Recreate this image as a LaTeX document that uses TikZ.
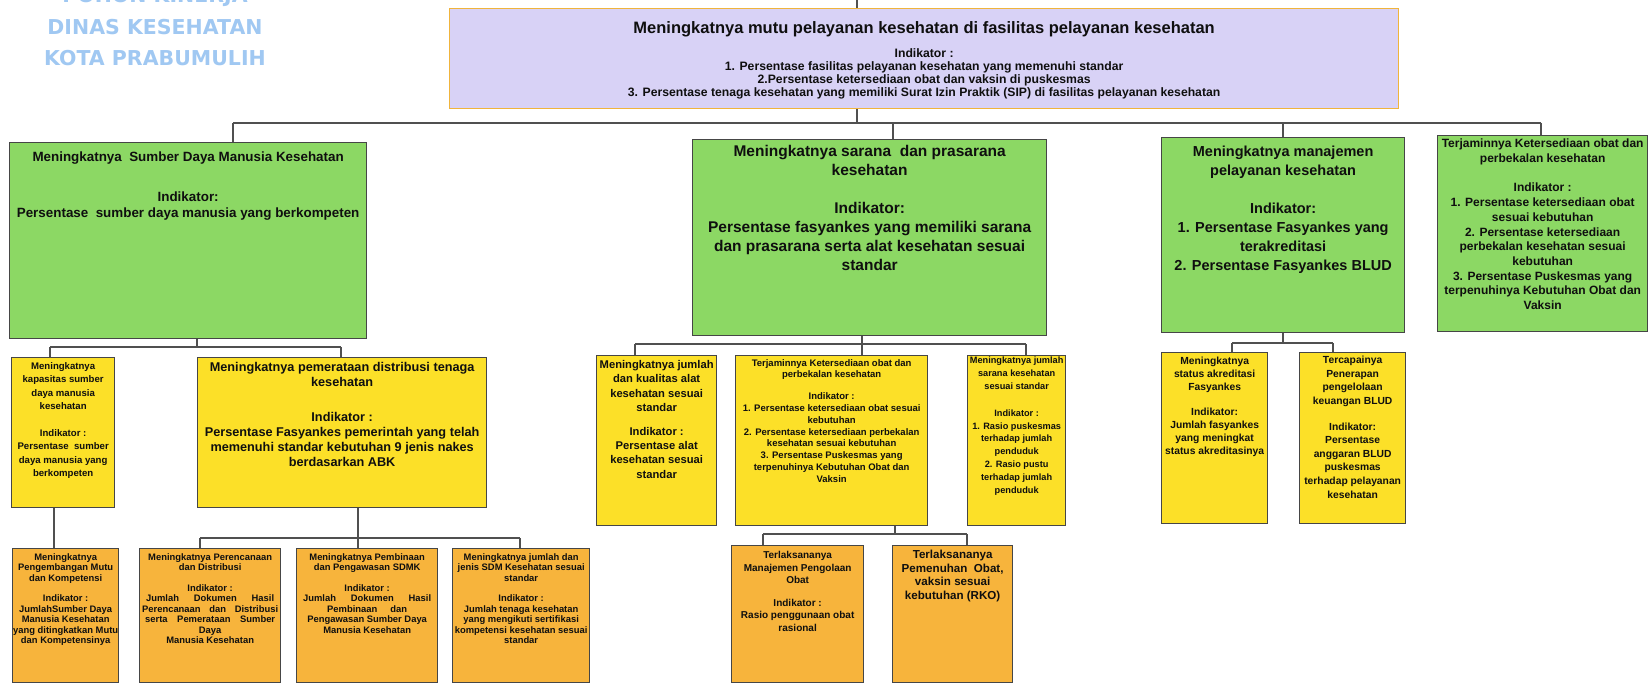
\documentclass[tikz,border=0pt]{standalone}
\usepackage{fontspec}
\setmainfont{Liberation Sans}
\newfontfamily\wmfont{DejaVu Sans}
\definecolor{lavc}{RGB}{216,210,246}
\definecolor{topbc}{RGB}{240,180,60}
\definecolor{grnc}{RGB}{140,216,100}
\definecolor{ylwc}{RGB}{252,224,40}
\definecolor{orgc}{RGB}{247,180,60}
\definecolor{bordc}{RGB}{70,70,70}
\definecolor{linec}{RGB}{80,80,80}
\definecolor{txtc}{RGB}{15,15,15}
\definecolor{wmc}{RGB}{160,200,242}
\newcommand{\fs}[2]{\fontsize{#1pt}{#2pt}\selectfont\bfseries}
\begin{document}
\begin{tikzpicture}[x=1pt,y=-1pt,
  bx/.style={draw=bordc, line width=1.3pt, anchor=north west, inner sep=0pt},
  lbl/.style={anchor=north, align=center, inner sep=0pt, text=txtc},
  conn/.style={draw=linec, line width=1.3pt},
  wm/.style={text=wmc, font=\wmfont\bfseries\fontsize{20.5pt}{21pt}\selectfont, inner sep=0pt}]
\useasboundingbox (0,0) rectangle (1648,684);

% watermark
\node[wm] (wm1) at (155,-3) {POHON KINERJA};
\node[wm] (wm2) at (155,27) {DINAS KESEHATAN};
\node[wm] (wm3) at (155,58) {KOTA PRABUMULIH};

% top box
\node[bx, draw=topbc, fill=lavc, minimum width=949pt, minimum height=100pt,
  label={[lbl, yshift=-13pt, font=\fs{16.5}{18}]north:{Meningkatnya mutu pelayanan kesehatan di fasilitas pelayanan kesehatan}},
  label={[lbl, yshift=-40pt, font=\fs{12.2}{13.3}]north:{Indikator :\\1. Persentase fasilitas pelayanan kesehatan yang memenuhi standar\\2.Persentase ketersediaan obat dan vaksin di puskesmas\\3. Persentase tenaga kesehatan yang memiliki Surat Izin Praktik (SIP) di fasilitas pelayanan kesehatan}}]
  (T) at (449,8) {};

% green row
\node[bx, fill=grnc, minimum width=357pt, minimum height=196pt,
  label={[lbl, yshift=-9.5pt, font=\fs{13.4}{16}]north:{Meningkatnya\ \ Sumber Daya Manusia Kesehatan\\[24pt]Indikator:\\Persentase\ \ sumber daya manusia yang berkompeten}}]
  (G1) at (9,142) {};
\node[bx, fill=grnc, minimum width=354pt, minimum height=196pt,
  label={[lbl, yshift=-6.5pt, font=\fs{15.5}{19}]north:{Meningkatnya sarana\ \ dan prasarana\\kesehatan\\[19pt]Indikator:\\Persentase fasyankes yang memiliki sarana\\dan prasarana serta alat kesehatan sesuai\\standar}}]
  (G2) at (692,139) {};
\node[bx, fill=grnc, minimum width=243pt, minimum height=195pt,
  label={[lbl, yshift=-9pt, font=\fs{14.5}{19}]north:{Meningkatnya manajemen\\pelayanan kesehatan\\[19pt]Indikator:\\1. Persentase Fasyankes yang\\terakreditasi\\2. Persentase Fasyankes BLUD}}]
  (G3) at (1161,137) {};
\node[bx, fill=grnc, minimum width=210pt, minimum height=196pt,
  label={[lbl, yshift=-4pt, font=\fs{12}{14.7}]north:{Terjaminnya Ketersediaan obat dan\\perbekalan kesehatan\\[14.7pt]Indikator :\\1. Persentase ketersediaan obat\\sesuai kebutuhan\\2. Persentase ketersediaan\\perbekalan kesehatan sesuai\\kebutuhan\\3. Persentase Puskesmas yang\\terpenuhinya Kebutuhan Obat dan\\Vaksin}}]
  (G4) at (1437,135) {};

% yellow row
\node[bx, fill=ylwc, minimum width=103pt, minimum height=150pt,
  label={[lbl, yshift=-5pt, font=\fs{9.6}{13.5}]north:{Meningkatnya\\kapasitas sumber\\daya manusia\\kesehatan\\[13pt]Indikator :\\Persentase\ \ sumber\\daya manusia yang\\berkompeten}}]
  (Y1a) at (11,357) {};
\node[bx, fill=ylwc, minimum width=289pt, minimum height=150pt,
  label={[lbl, yshift=-4.7pt, font=\fs{12.7}{15}]north:{Meningkatnya pemerataan distribusi tenaga\\kesehatan\\[20pt]Indikator :\\Persentase Fasyankes pemerintah yang telah\\memenuhi standar kebutuhan 9 jenis nakes\\berdasarkan ABK}}]
  (Y1b) at (197,357) {};
\node[bx, fill=ylwc, minimum width=120pt, minimum height=170pt,
  label={[lbl, yshift=-5.3pt, font=\fs{11.2}{14.2}]north:{Meningkatnya jumlah\\dan kualitas alat\\kesehatan sesuai\\standar\\[10pt]Indikator :\\Persentase alat\\kesehatan sesuai\\standar}}]
  (Y2a) at (596,355) {};
\node[bx, fill=ylwc, minimum width=192pt, minimum height=170pt,
  label={[lbl, yshift=-4pt, font=\fs{9.5}{11.8}]north:{Terjaminnya Ketersediaan obat dan\\perbekalan kesehatan\\[10pt]Indikator :\\1. Persentase ketersediaan obat sesuai\\kebutuhan\\2. Persentase ketersediaan perbekalan\\kesehatan sesuai kebutuhan\\3. Persentase Puskesmas yang\\terpenuhinya Kebutuhan Obat dan\\Vaksin}}]
  (Y2b) at (735,355) {};
\node[bx, fill=ylwc, minimum width=98pt, minimum height=170pt,
  label={[lbl, yshift=-2pt, font=\fs{9.2}{12.8}]north:{Meningkatnya jumlah\\sarana kesehatan\\sesuai standar\\[14pt]Indikator :\\1. Rasio puskesmas\\terhadap jumlah\\penduduk\\2. Rasio pustu\\terhadap jumlah\\penduduk}}]
  (Y2c) at (967,355) {};
\node[bx, fill=ylwc, minimum width=106pt, minimum height=171pt,
  label={[lbl, yshift=-4.8pt, font=\fs{10.3}{13}]north:{Meningkatnya\\status akreditasi\\Fasyankes\\[12pt]Indikator:\\Jumlah fasyankes\\yang meningkat\\status akreditasinya}}]
  (Y3a) at (1161,352) {};
\node[bx, fill=ylwc, minimum width=106pt, minimum height=171pt,
  label={[lbl, yshift=-4pt, font=\fs{10.3}{13.6}]north:{Tercapainya\\Penerapan\\pengelolaan\\keuangan BLUD\\[12pt]Indikator:\\Persentase\\anggaran BLUD\\puskesmas\\terhadap pelayanan\\kesehatan}}]
  (Y3b) at (1299,352) {};

% orange row
\node[bx, fill=orgc, minimum width=106pt, minimum height=134pt,
  label={[lbl, yshift=-5pt, font=\fs{9.4}{10.5}]north:{Meningkatnya\\Pengembangan Mutu\\dan Kompetensi\\[10pt]Indikator :\\JumlahSumber Daya\\Manusia Kesehatan\\yang ditingkatkan Mutu\\dan Kompetensinya}}]
  (O1) at (12,548) {};
\node[bx, fill=orgc, minimum width=141pt, minimum height=134pt,
  label={[lbl, yshift=-5pt, font=\fs{9.4}{10.5}]north:{Meningkatnya Perencanaan\\dan Distribusi\\[10pt]Indikator :\\\makebox[128pt][s]{Jumlah Dokumen Hasil}\\\makebox[136pt][s]{Perencanaan dan Distribusi}\\\makebox[130pt][s]{serta Pemerataan Sumber}\\Daya\\Manusia Kesehatan}}]
  (O2) at (139,548) {};
\node[bx, fill=orgc, minimum width=141pt, minimum height=134pt,
  label={[lbl, yshift=-5pt, font=\fs{9.4}{10.5}]north:{Meningkatnya Pembinaan\\dan Pengawasan SDMK\\[10pt]Indikator :\\\makebox[128pt][s]{Jumlah Dokumen Hasil}\\\makebox[80pt][s]{Pembinaan dan}\\Pengawasan Sumber Daya\\Manusia Kesehatan}}]
  (O3) at (296,548) {};
\node[bx, fill=orgc, minimum width=137pt, minimum height=134pt,
  label={[lbl, yshift=-5pt, font=\fs{9.4}{10.5}]north:{Meningkatnya jumlah dan\\jenis SDM Kesehatan sesuai\\standar\\[10pt]Indikator :\\Jumlah tenaga kesehatan\\yang mengikuti sertifikasi\\kompetensi kesehatan sesuai\\standar}}]
  (O4) at (452,548) {};
\node[bx, fill=orgc, minimum width=132pt, minimum height=137pt,
  label={[lbl, yshift=-6pt, font=\fs{10}{12.6}]north:{Terlaksananya\\Manajemen Pengolaan\\Obat\\[10pt]Indikator :\\Rasio penggunaan obat\\rasional}}]
  (O5) at (731,545) {};
\node[bx, fill=orgc, minimum width=120pt, minimum height=137pt,
  label={[lbl, yshift=-5pt, font=\fs{11.6}{13.5}]north:{Terlaksananya\\Pemenuhan\ \ Obat,\\vaksin sesuai\\kebutuhan (RKO)}}]
  (O6) at (892,545) {};

% connectors level 0/1
\coordinate (top0) at (857,0);
\draw[conn] (top0) -- (top0 |- T.north);
\coordinate (bus0) at (857,123);
\draw[conn] (T.south -| bus0) -- (bus0);
\coordinate (k1) at (233,123);
\coordinate (k2) at (893,123);
\coordinate (k3) at (1283,123);
\coordinate (k4) at (1541,123);
\draw[conn] (k1) -- (k4);
\draw[conn] (k1) -- (k1 |- G1.north);
\draw[conn] (k2) -- (k2 |- G2.north);
\draw[conn] (k3) -- (k3 |- G3.north);
\draw[conn] (k4) -- (k4 |- G4.north);

% under G1
\coordinate (s1) at (197,347);
\coordinate (a1) at (50,347);
\coordinate (a2) at (341,347);
\draw[conn] (G1.south -| s1) -- (s1);
\draw[conn] (a1) -- (a2);
\draw[conn] (a1) -- (a1 |- Y1a.north);
\draw[conn] (a2) -- (a2 |- Y1b.north);
% under Y1a
\coordinate (a3) at (54,530);
\draw[conn] (Y1a.south -| a3) -- (a3 |- O1.north);
% under Y1b
\coordinate (s2) at (358,538);
\coordinate (c1) at (200,538);
\coordinate (c3) at (520,538);
\draw[conn] (Y1b.south -| s2) -- (s2);
\draw[conn] (c1) -- (c3);
\draw[conn] (c1) -- (c1 |- O2.north);
\draw[conn] (s2) -- (s2 |- O3.north);
\draw[conn] (c3) -- (c3 |- O4.north);

% under G2
\coordinate (s3) at (862,344);
\coordinate (d1) at (635,344);
\coordinate (d3) at (1026,344);
\draw[conn] (G2.south -| s3) -- (s3);
\draw[conn] (d1) -- (d3);
\draw[conn] (d1) -- (d1 |- Y2a.north);
\draw[conn] (s3) -- (s3 |- Y2b.north);
\draw[conn] (d3) -- (d3 |- Y2c.north);
% under Y2b
\coordinate (s4) at (895,534);
\coordinate (e1) at (763,534);
\coordinate (e2) at (967,534);
\draw[conn] (Y2b.south -| s4) -- (s4);
\draw[conn] (e1) -- (e2);
\draw[conn] (e1) -- (e1 |- O5.north);
\draw[conn] (e2) -- (e2 |- O6.north);

% under G3
\coordinate (s5) at (1283,343);
\coordinate (f1) at (1232,343);
\coordinate (f2) at (1333,343);
\draw[conn] (G3.south -| s5) -- (s5);
\draw[conn] (f1) -- (f2);
\draw[conn] (f1) -- (f1 |- Y3a.north);
\draw[conn] (f2) -- (f2 |- Y3b.north);
\end{tikzpicture}
\end{document}
